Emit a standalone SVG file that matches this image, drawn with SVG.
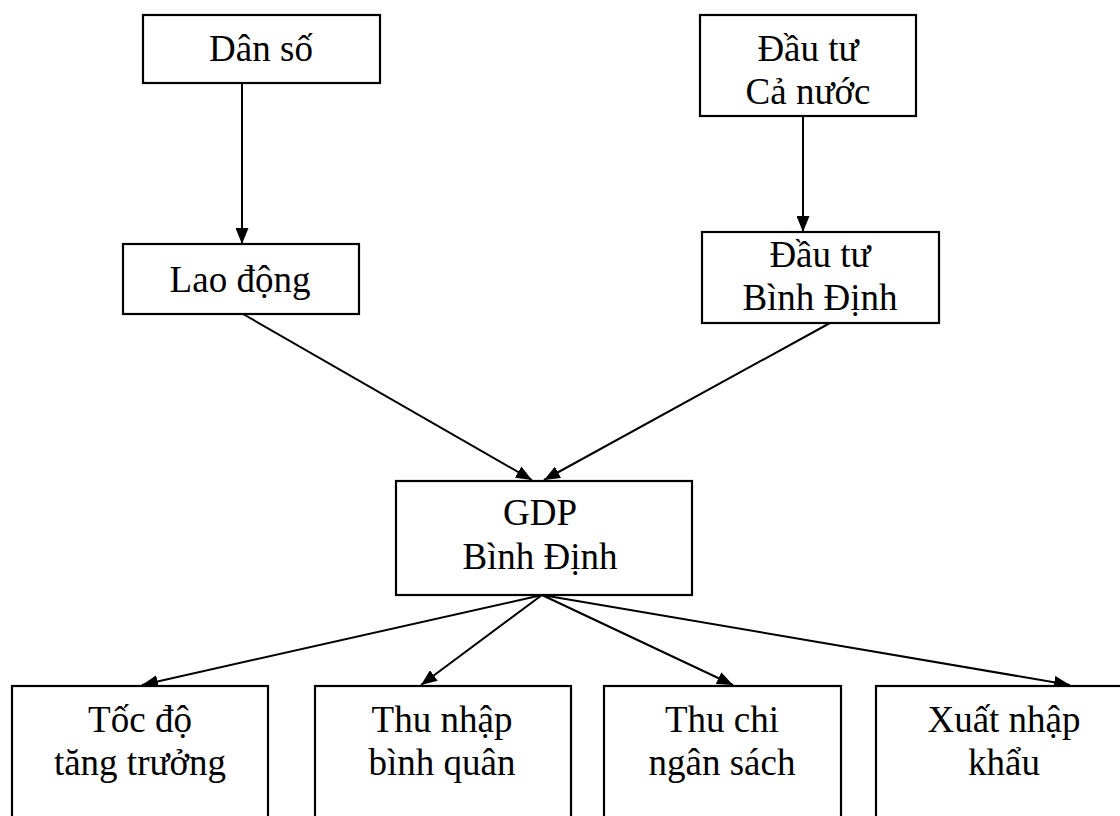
<svg xmlns="http://www.w3.org/2000/svg" width="1120" height="816" viewBox="0 0 1120 816">
<style>
.box{fill:#fff;stroke:#000;stroke-width:2.2}
.t{font-family:"Liberation Serif","Times New Roman",serif;font-size:37px;text-anchor:middle;fill:#000}
.c{stroke:#000;stroke-width:2;fill:none}
</style>
<defs>
<marker id="ah" viewBox="0 0 16 13" refX="16" refY="6.5" markerWidth="16" markerHeight="13" markerUnits="userSpaceOnUse" orient="auto"><path d="M0,0 L16,6.5 L0,13 z" fill="#000"/></marker>
</defs>
<rect width="1120" height="816" fill="#fff"/>
<g id="connectors">
<line class="c" x1="242" y1="83" x2="242" y2="244" marker-end="url(#ah)"/>
<line class="c" x1="803" y1="116" x2="803" y2="232" marker-end="url(#ah)"/>
<line class="c" x1="243" y1="314" x2="532" y2="480" marker-end="url(#ah)"/>
<line class="c" x1="830" y1="323" x2="544" y2="480" marker-end="url(#ah)"/>
<line class="c" x1="542" y1="595" x2="142" y2="685" marker-end="url(#ah)"/>
<line class="c" x1="542" y1="595" x2="421" y2="685" marker-end="url(#ah)"/>
<line class="c" x1="542" y1="595" x2="733" y2="685" marker-end="url(#ah)"/>
<line class="c" x1="542" y1="595" x2="1070" y2="685" marker-end="url(#ah)"/>
</g>
<g id="dan-so"><rect class="box" x="143" y="15" width="237" height="68"/><text class="t" x="261" y="61">Dân số</text></g>
<g id="dau-tu-ca-nuoc"><rect class="box" x="700" y="15" width="216" height="101"/><text class="t" x="808" y="61">Đầu tư</text><text class="t" x="808" y="104">Cả nước</text></g>
<g id="lao-dong"><rect class="box" x="123" y="244" width="236" height="70"/><text class="t" x="240" y="292">Lao động</text></g>
<g id="dau-tu-binh-dinh"><rect class="box" x="702" y="232" width="237" height="91"/><text class="t" x="820" y="267">Đầu tư</text><text class="t" x="820" y="310">Bình Định</text></g>
<g id="gdp"><rect class="box" x="396" y="481" width="296" height="114"/><text class="t" x="540" y="525">GDP</text><text class="t" x="540" y="569">Bình Định</text></g>
<g id="toc-do"><rect class="box" x="12" y="686" width="256" height="140"/><text class="t" x="140" y="732">Tốc độ</text><text class="t" x="140" y="775">tăng trưởng</text></g>
<g id="thu-nhap"><rect class="box" x="315" y="686" width="256" height="140"/><text class="t" x="442" y="732">Thu nhập</text><text class="t" x="442" y="775">bình quân</text></g>
<g id="thu-chi"><rect class="box" x="604" y="686" width="237" height="140"/><text class="t" x="722" y="732">Thu chi</text><text class="t" x="722" y="775">ngân sách</text></g>
<g id="xuat-nhap"><rect class="box" x="876" y="686" width="256" height="140"/><text class="t" x="1004" y="732">Xuất nhập</text><text class="t" x="1004" y="775">khẩu</text></g>
</svg>
